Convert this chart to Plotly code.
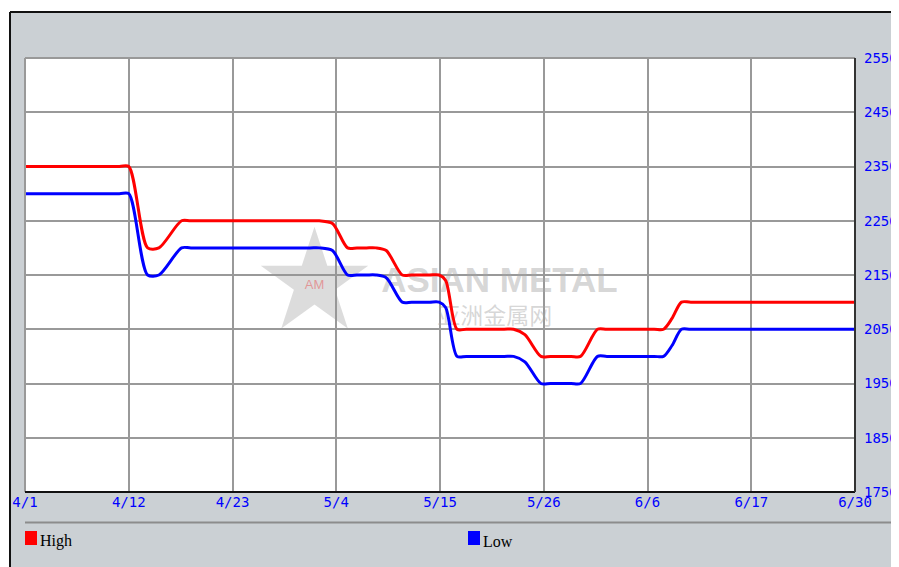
import plotly.graph_objects as go

# --- data (x = day offset from 4/1) ---
tick_pos = [0, 11, 22, 33, 44, 55, 66, 77, 88]
tick_labels = ["4/1", "4/12", "4/23", "5/4", "5/15", "5/26", "6/6", "6/17", "6/30"]
y_ticks = [1750, 1850, 1950, 2050, 2150, 2250, 2350, 2450, 2550]

days = [0, 10, 11, 13.0, 14.2, 16.6, 17.6, 30.2, 31.2, 32.6, 34.2, 35.2, 36.2, 37.2, 38.3,
        40.0, 41.0, 42.9, 43.9, 44.6, 45.8, 46.8, 50.8, 51.8, 53.0, 54.7, 55.7, 57.9, 58.9,
        60.7, 61.7, 66.7, 67.7, 68.6, 69.6, 70.6, 88]
high = [2350, 2350, 2350, 2200, 2200, 2250, 2250, 2250, 2250, 2245, 2200, 2200, 2200, 2200, 2195,
        2150, 2150, 2150, 2150, 2140, 2050, 2050, 2050, 2050, 2040, 2000, 2000, 2000, 2000,
        2050, 2050, 2050, 2050, 2070, 2100, 2100, 2100]
low = [2300, 2300, 2300, 2150, 2150, 2200, 2200, 2200, 2200, 2195, 2150, 2150, 2150, 2150, 2145,
       2100, 2100, 2100, 2100, 2090, 2000, 2000, 2000, 2000, 1990, 1950, 1950, 1950, 1950,
       2000, 2000, 2000, 2000, 2020, 2050, 2050, 2050]

# page offset: the html body has an 8px margin
OFF = 8
W, H = 891, 559
L, T = 25 - OFF, 58 - OFF
R, B = W - (855 - OFF), H - (492 - OFF)
PW, PH = W - L - R, H - T - B


def px(x):  # page pixel -> paper x
    return (x - OFF - L) / PW


def py(y):  # page pixel -> paper y
    return (H - B - (y - OFF)) / PH


fig = go.Figure()

# watermark underneath the lines
fig.add_trace(go.Scatter(
    x=[30.7, 30.7, 50.3, 49.8], y=[2116, 2130, 2135, 2070],
    mode="text",
    text=["★", "AM", "<b>ASIAN METAL</b>", "亚洲金属网"],
    textfont=dict(
        size=[140, 13, 35, 23],
        color=["rgba(150,150,150,0.33)", "rgba(230,90,90,0.55)",
               "rgba(165,165,165,0.45)", "rgba(165,165,165,0.45)"],
        family=["DejaVu Sans", "Liberation Sans", "Liberation Sans", "Noto Sans CJK SC"],
    ),
    hoverinfo="skip", showlegend=False,
))

fig.add_trace(go.Scatter(x=days, y=high, name="High", mode="lines",
                         line=dict(color="#ff0000", width=3, shape="spline", smoothing=0.8)))
fig.add_trace(go.Scatter(x=days, y=low, name="Low", mode="lines",
                         line=dict(color="#0000ff", width=3, shape="spline", smoothing=0.8)))

tick_font = dict(family="DejaVu Sans Mono", size=14, color="#0000ff")

fig.update_xaxes(range=[0, 88], tickvals=tick_pos, ticktext=tick_labels,
                 showgrid=True, gridcolor="#999999", gridwidth=1.5, automargin=False,
                 ticks="", tickfont=tick_font, zeroline=False, showline=False)
fig.update_yaxes(range=[1750, 2550], tickvals=y_ticks, side="right",
                 showgrid=True, gridcolor="#999999", gridwidth=1.5, automargin=False,
                 ticks="", ticklabelstandoff=8,
                 tickfont=tick_font, zeroline=False, showline=False)

shapes = [
    # grey panel, then the white plot area on top of it (both below the grid)
    dict(type="rect", xref="paper", yref="paper", x0=px(10), x1=px(910), y0=py(580), y1=py(12),
         fillcolor="#cbd0d4", line_width=0, layer="below"),
    dict(type="rect", xref="paper", yref="paper", x0=0, x1=1, y0=0, y1=1,
         fillcolor="#ffffff", line_width=0, layer="below"),
    dict(type="line", xref="paper", yref="paper", x0=px(10), x1=px(910), y0=py(12), y1=py(12),
         line=dict(color="#111111", width=2)),
    dict(type="line", xref="paper", yref="paper", x0=px(10), x1=px(10), y0=py(12), y1=py(580),
         line=dict(color="#111111", width=2)),
    # plot frame: grey top/left, dark bottom/right
    dict(type="line", xref="paper", yref="paper", x0=0, x1=1, y0=1, y1=1,
         line=dict(color="#999999", width=2)),
    dict(type="line", xref="paper", yref="paper", x0=0, x1=0, y0=0, y1=1,
         line=dict(color="#999999", width=2)),
    dict(type="line", xref="paper", yref="paper", x0=0, x1=1, y0=0, y1=0,
         line=dict(color="#111111", width=2)),
    dict(type="line", xref="paper", yref="paper", x0=1, x1=1, y0=0, y1=1,
         line=dict(color="#333333", width=2)),
    # separator above legend
    dict(type="line", xref="paper", yref="paper", x0=0, x1=px(895), y0=py(522.5), y1=py(522.5),
         line=dict(color="#8c8c8c", width=2)),
    # legend swatches
    dict(type="rect", xref="paper", yref="paper", x0=px(25), x1=px(37), y0=py(545), y1=py(531),
         fillcolor="#ff0000", line_width=0),
    dict(type="rect", xref="paper", yref="paper", x0=px(468), x1=px(480), y0=py(545), y1=py(531),
         fillcolor="#0000ff", line_width=0),
]

legend_font = dict(family="Liberation Serif", size=16, color="#000000")
annotations = [
    dict(text="High", xref="paper", yref="paper", x=px(38), y=py(541), xanchor="left",
         yanchor="middle", showarrow=False, font=legend_font),
    dict(text="Low", xref="paper", yref="paper", x=px(481), y=py(541), xanchor="left",
         yanchor="middle", showarrow=False, font=legend_font),
]

fig.update_layout(
    width=W, height=H,
    margin=dict(l=L, r=R, t=T, b=B),
    paper_bgcolor="#ffffff",
    plot_bgcolor="#ffffff",
    showlegend=False,
    shapes=shapes,
    annotations=annotations,
)

fig.write_html("out.html")
